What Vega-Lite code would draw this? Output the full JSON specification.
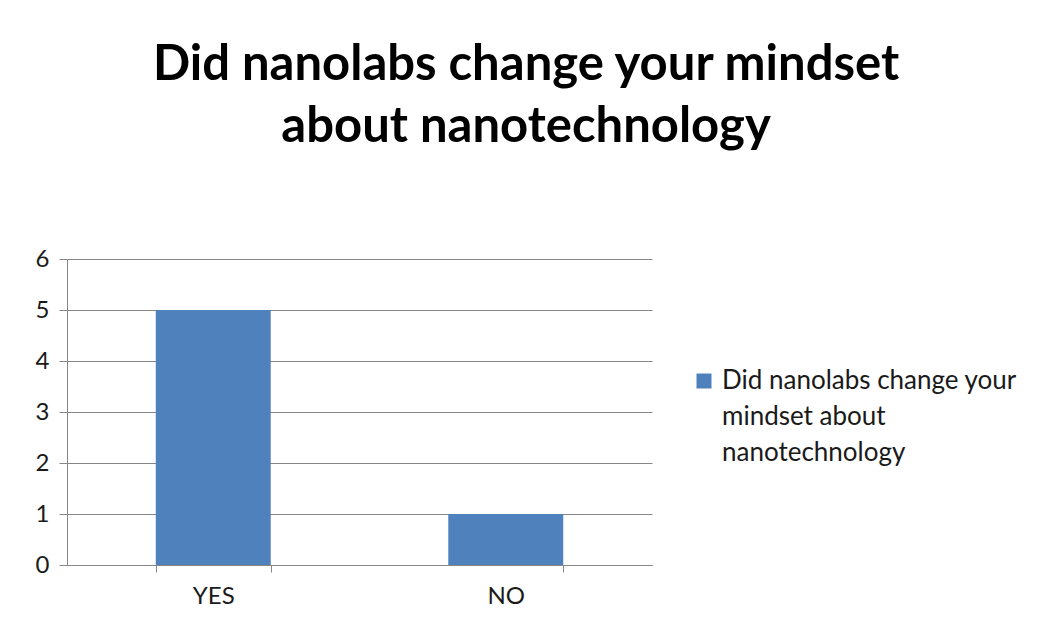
{
  "$schema": "https://vega.github.io/schema/vega-lite/v6.json",
  "width": 585,
  "height": 306,
  "padding": {"left": 35, "top": 41, "right": 10, "bottom": 10},
  "background": "white",
  "title": {
    "text": ["Did nanolabs change your mindset", "about nanotechnology"],
    "font": "Lato",
    "fontSize": 49,
    "fontWeight": "bold",
    "color": "black",
    "anchor": "middle",
    "frame": "bounds",
    "lineHeight": 62,
    "offset": 95
  },
  "data": {
    "values": [
      {"answer": "YES", "count": 5, "series": "Did nanolabs change your|mindset about|nanotechnology"},
      {"answer": "NO", "count": 1, "series": "Did nanolabs change your|mindset about|nanotechnology"}
    ]
  },
  "mark": {"type": "bar", "color": "#4F81BD"},
  "encoding": {
    "x": {
      "field": "answer",
      "type": "nominal",
      "sort": ["YES", "NO"],
      "scale": {"paddingInner": 0.607, "paddingOuter": 0.3035},
      "axis": {
        "title": null,
        "labelAngle": 0,
        "labelFont": "Lato",
        "labelFontSize": 24,
        "labelColor": "#1a1a1a",
        "labelPadding": 12,
        "tickBand": "extent",
        "tickColor": "#868686",
        "domainColor": "#868686",
        "tickSize": 7
      }
    },
    "y": {
      "field": "count",
      "type": "quantitative",
      "scale": {"domain": [0, 6]},
      "axis": {
        "title": null,
        "values": [0, 1, 2, 3, 4, 5, 6],
        "labelOverlap": false,
        "labelFont": "Lato",
        "labelFontSize": 24,
        "labelColor": "#1a1a1a",
        "labelPadding": 10,
        "gridColor": "#868686",
        "tickColor": "#868686",
        "domainColor": "#868686",
        "tickSize": 8
      }
    },
    "fill": {
      "field": "series",
      "type": "nominal",
      "scale": {"range": ["#4F81BD"]},
      "legend": {
        "title": null,
        "orient": "none",
        "legendX": 624,
        "legendY": 109,
        "symbolType": "square",
        "symbolSize": 225,
        "labelFont": "Lato",
        "labelFontSize": 26,
        "labelColor": "#1a1a1a",
        "labelExpr": "split(datum.label, '|')",
        "labelLimit": 400,
        "labelOffset": 5
      }
    }
  },
  "config": {
    "view": {"stroke": null},
    "style": {"guide-label": {"lineHeight": 36}}
  }
}
